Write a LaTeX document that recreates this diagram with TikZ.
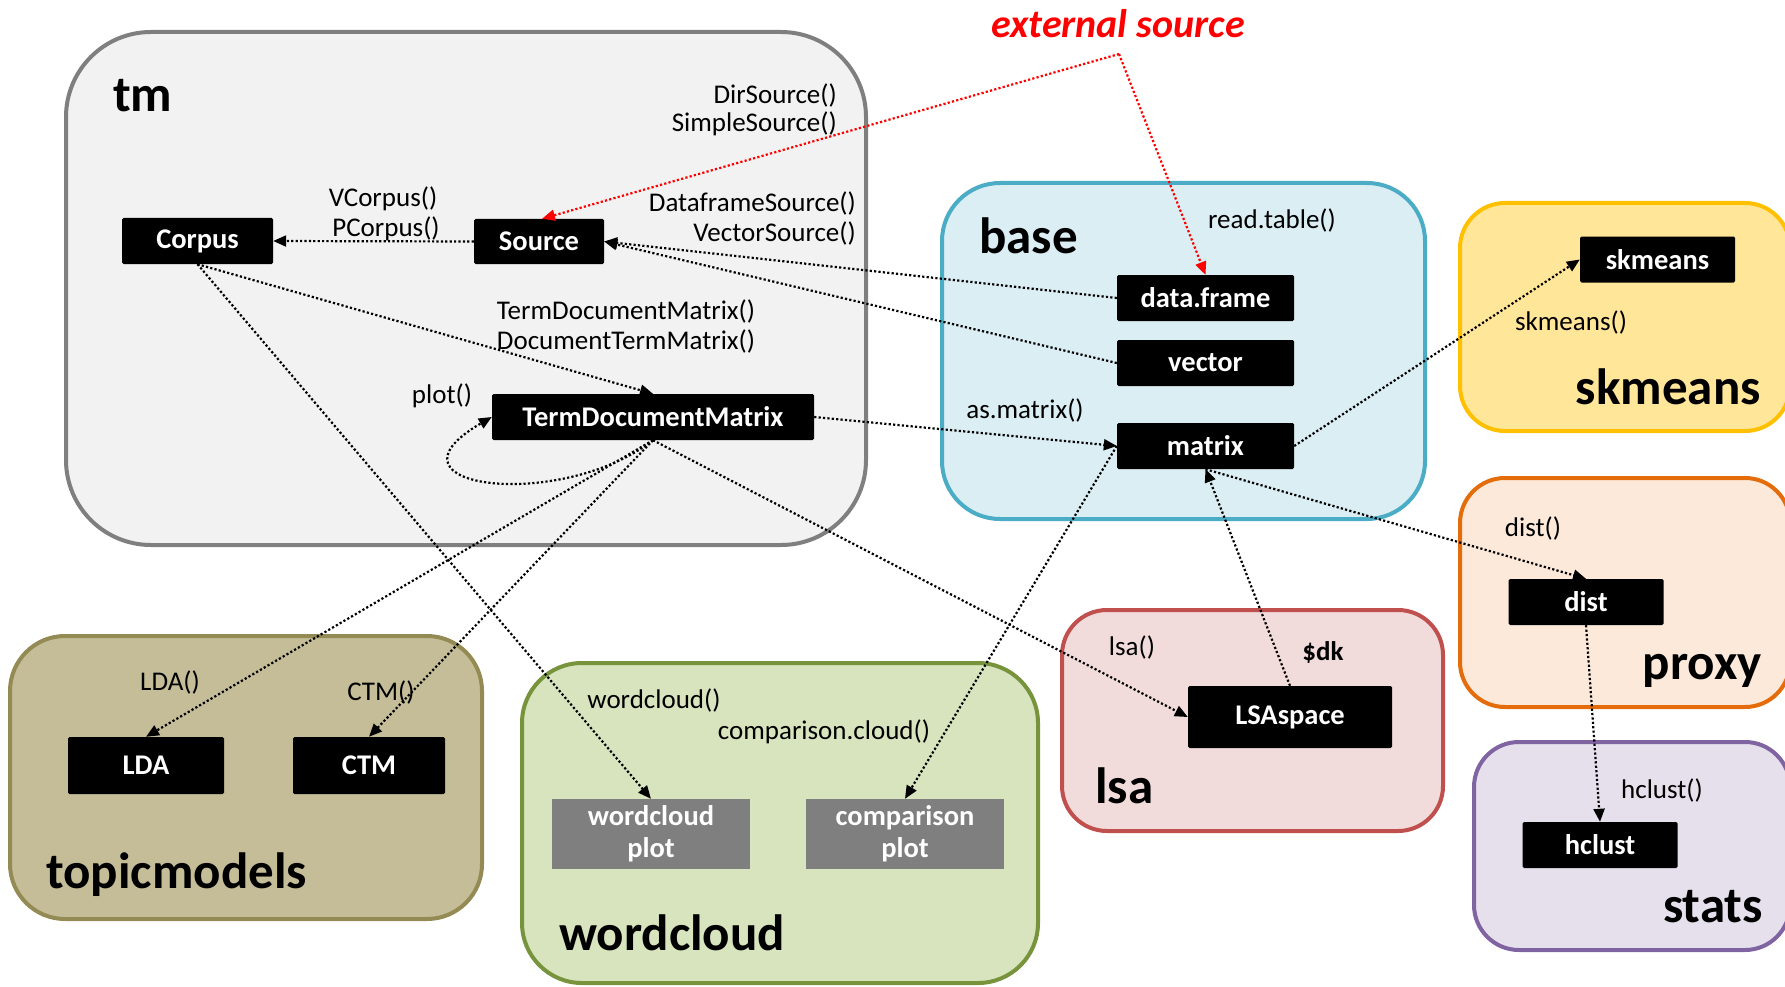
\documentclass[tikz,border=0pt]{standalone}
\usepackage{fontspec}
\setmainfont{Carlito}
\usetikzlibrary{arrows.meta}

\newcommand{\lblfont}{\fontsize{27}{31}\selectfont}
\newcommand{\objfont}{\fontsize{28.5}{31}\selectfont\bfseries}
\newcommand{\ttlfont}{\fontsize{51}{56}\selectfont\bfseries}

\definecolor{tmfill}{HTML}{F2F2F2}\definecolor{tmline}{HTML}{7F7F7F}
\definecolor{basefill}{HTML}{DAEEF3}\definecolor{baseline}{HTML}{4BACC6}
\definecolor{skfill}{HTML}{FFE699}\definecolor{skline}{HTML}{FFC000}
\definecolor{pxfill}{HTML}{FDE9D9}\definecolor{pxline}{HTML}{E46C0A}
\definecolor{stfill}{HTML}{E5E0EC}\definecolor{stline}{HTML}{8064A2}
\definecolor{lsafill}{HTML}{F2DCDB}\definecolor{lsaline}{HTML}{C0504D}
\definecolor{topfill}{HTML}{C4BD97}\definecolor{topline}{HTML}{948A54}
\definecolor{wcfill}{HTML}{D7E4BD}\definecolor{wcline}{HTML}{77933C}
\definecolor{plotgray}{HTML}{7F7F7F}

\begin{document}
\begin{tikzpicture}[x=1pt,y=-1pt,
  grp/.style={line width=4pt, rounded corners=#1},
  obj/.style={fill=black, text=white, font=\objfont, inner sep=0pt, rounded corners=1.5pt},
  plotbox/.style={fill=plotgray, text=white, font=\objfont, inner sep=0pt, align=center,
    minimum width=198pt, minimum height=70pt},
  lbl/.style={font=\lblfont, inner sep=0pt},
  ttl/.style={font=\ttlfont, inner sep=0pt},
  link/.style={line width=2.2pt, dash pattern=on 2.2pt off 2.2pt,
    -{Triangle[length=13pt,width=11pt]}},
  extlink/.style={link, red}]

\useasboundingbox (0,0) rectangle (1785,987);

% package groups
\filldraw[grp=85pt, fill=tmfill, draw=tmline] (66,32) rectangle (866,545);
\filldraw[grp=58pt, fill=basefill, draw=baseline] (942,183) rectangle (1425,519);
\filldraw[grp=45pt, fill=skfill, draw=skline] (1460,203) rectangle (1790,431);
\filldraw[grp=45pt, fill=pxfill, draw=pxline] (1460,478) rectangle (1790,707);
\filldraw[grp=45pt, fill=stfill, draw=stline] (1474,742) rectangle (1790,950);
\filldraw[grp=45pt, fill=lsafill, draw=lsaline] (1062,610) rectangle (1443,831);
\filldraw[grp=55pt, fill=topfill, draw=topline] (10,636) rectangle (482,919);
\filldraw[grp=60pt, fill=wcfill, draw=wcline] (522,663) rectangle (1038,983);

% objects
\node[obj, minimum width=151pt, minimum height=46pt] (corpus) at (197.5,241) {Corpus};
\node[obj, minimum width=130pt, minimum height=45pt] (src) at (539,241.5) {Source};
\node[obj, minimum width=322pt, minimum height=46pt] (tdm) at (653,417) {TermDocumentMatrix};
\node[obj, minimum width=177pt, minimum height=46pt] (df) at (1205.5,298) {data.frame};
\node[obj, minimum width=177pt, minimum height=46pt] (vec) at (1205.5,363) {vector};
\node[obj, minimum width=177pt, minimum height=46pt] (mat) at (1205.5,446) {matrix};
\node[obj, minimum width=155pt, minimum height=46pt] (skm) at (1657.5,259.5) {skmeans};
\node[obj, minimum width=155pt, minimum height=46pt] (dist) at (1586,602) {dist};
\node[obj, minimum width=155pt, minimum height=46pt] (hcl) at (1600,845) {hclust};
\node[obj, minimum width=204pt, minimum height=62pt] (lsas) at (1290,717) {LSAspace};
\node[obj, minimum width=156pt, minimum height=57pt] (lda) at (146,765.5) {LDA};
\node[obj, minimum width=152pt, minimum height=57pt] (ctm) at (369,765.5) {CTM};
\node[plotbox] (wplot) at (651,834) {wordcloud\\[1pt]plot};
\node[plotbox] (cplot) at (905,834) {comparison\\[1pt]plot};

% group titles
\node[ttl, anchor=west] (ttm) at (113,96) {tm};
\node[ttl, anchor=west] (tbase) at (979,236) {base};
\node[ttl, anchor=east] (tskm) at (1761,387) {skmeans};
\node[ttl, anchor=east] (tpx) at (1762,671) {proxy};
\node[ttl, anchor=east] (tst) at (1763,907) {stats};
\node[ttl, anchor=west] (tlsa) at (1095,786) {lsa};
\node[ttl, anchor=west] (ttop) at (46,875) {topicmodels};
\node[ttl, anchor=west] (twc) at (559,933) {wordcloud};

% function labels
\node[lbl, anchor=east] (l1) at (837,95) {DirSource()};
\node[lbl, anchor=east] (l2) at (837,124) {SimpleSource()};
\node[lbl] (l3) at (383,199) {VCorpus()};
\node[lbl] (l4) at (386,229) {PCorpus()};
\node[lbl, anchor=east] (l5) at (856,203) {DataframeSource()};
\node[lbl, anchor=east] (l6) at (856,233) {VectorSource()};
\node[lbl] (l7) at (626,311) {TermDocumentMatrix()};
\node[lbl] (l8) at (626,341) {DocumentTermMatrix()};
\node[lbl] (l9) at (442,396) {plot()};
\node[lbl] (l10) at (1272,220) {read.table()};
\node[lbl] (l11) at (1025,410) {as.matrix()};
\node[lbl] (l12) at (1571,322) {skmeans()};
\node[lbl] (l13) at (1533,528) {dist()};
\node[lbl] (l14) at (1662,790) {hclust()};
\node[lbl] (l15) at (1132,647) {lsa()};
\node[lbl, font=\lblfont\bfseries] (l16) at (1323,652) {\$dk};
\node[lbl] (l17) at (170,682) {LDA()};
\node[lbl] (l18) at (381,692) {CTM()};
\node[lbl] (l19) at (654,700) {wordcloud()};
\node[lbl] (l20) at (824,732) {comparison.cloud()};

% external input
\node[font=\fontsize{40}{44}\selectfont\bfseries\itshape, text=red, inner sep=0pt] (extsrc) at (1118,24) {external source};
\coordinate (extpt) at (1119,54);
\draw[extlink] (extpt) -- ([xshift=3pt]src.north);
\draw[extlink] (extpt) -- (df.north);

% connectors
\draw[link] (src.west) -- (corpus.east);
\draw[link] (df.west) -- (src.east);
\draw[link] (vec.west) -- (src.east);
\draw[link] (corpus.south) -- (tdm.north);
\draw[link] (corpus.south) -- (wplot.north);
\draw[link] (tdm.south) .. controls (560,512) and (370,488) .. (tdm.west);
\draw[link] (tdm.east) -- (mat.west);
\draw[link] (tdm.south) -- (lda.north);
\draw[link] (tdm.south) -- (ctm.north);
\draw[link] (tdm.south) -- (lsas.west);
\draw[link] (mat.west) -- (cplot.north);
\draw[link] (lsas.north) -- (mat.south);
\draw[link] (mat.east) -- (skm.west);
\draw[link] (mat.south) -- (dist.north);
\draw[link] (dist.south) -- (hcl.north);
\end{tikzpicture}
\end{document}
